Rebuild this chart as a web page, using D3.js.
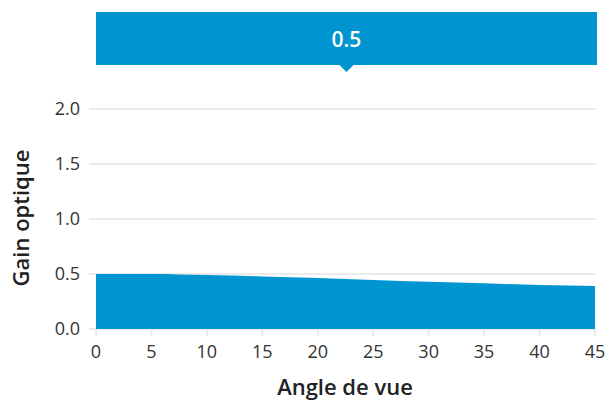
<!DOCTYPE html>
<html><head><meta charset="utf-8">
<script src="https://cdn.jsdelivr.net/npm/d3@7"></script>
<style>
body{margin:0;background:#fff;}
text{font-family:"Open Sans",Lato,sans-serif;}
</style></head>
<body><svg id="c" width="606" height="400"></svg>
<script>
const angles = [0,5,10,15,20,25,30,35,40,45];
const gains  = [0.5,0.5,0.49,0.478,0.464,0.446,0.43,0.415,0.40,0.39];
const yTicks = [0,0.5,1.0,1.5,2.0];
const xTicks = [0,5,10,15,20,25,30,35,40,45];
const tooltipValue = "0.5";
const xTitle = "Angle de vue", yTitle = "Gain optique";

const svg = d3.select("#c");
const x = d3.scaleLinear().domain([0,45]).range([96,595]);
const y = d3.scaleLinear().domain([0,2]).range([329,109]);
const blue = "#0094d0", grid = "#ebebeb";

svg.append("g").selectAll("line").data(yTicks).join("line")
  .attr("x1",89).attr("x2",596).attr("y1",d=>y(d)).attr("y2",d=>y(d))
  .attr("stroke",grid).attr("stroke-width",2);
svg.append("g").selectAll("line").data(xTicks).join("line")
  .attr("x1",d=>x(d)).attr("x2",d=>x(d)).attr("y1",329).attr("y2",336)
  .attr("stroke",grid).attr("stroke-width",2);

const area = d3.area().x((d,i)=>x(angles[i])).y0(y(0)).y1(d=>y(d)).curve(d3.curveMonotoneX);
svg.append("path").datum(gains).attr("d",area).attr("fill",blue);

svg.append("g").selectAll("text").data(yTicks).join("text")
  .attr("x",80).attr("y",d=>y(d)).attr("dy","0.35em").attr("text-anchor","end")
  .attr("font-size",18).attr("fill","#333").text(d=>d3.format(".1f")(d));
svg.append("g").selectAll("text").data(xTicks).join("text")
  .attr("x",d=>x(d)).attr("y",358).attr("text-anchor","middle")
  .attr("font-size",18).attr("fill","#333").text(d=>d);

svg.append("text").attr("x",345).attr("y",395).attr("text-anchor","middle")
  .attr("font-size",22).attr("font-weight",600).attr("fill","#222").text(xTitle);
svg.append("text").attr("transform","translate(29,218) rotate(-90)").attr("text-anchor","middle")
  .attr("font-size",22).attr("font-weight",600).attr("fill","#222").text(yTitle);

const tx = (96+597)/2;
svg.append("rect").attr("x",96).attr("y",12).attr("width",501).attr("height",53).attr("fill",blue);
svg.append("path").attr("d",`M${tx-7},65 L${tx},72 L${tx+7},65 Z`).attr("fill",blue);
svg.append("text").attr("x",tx).attr("y",47).attr("text-anchor","middle")
  .attr("font-size",21).attr("font-weight",600).attr("fill","#fff").text(tooltipValue);
</script></body></html>
